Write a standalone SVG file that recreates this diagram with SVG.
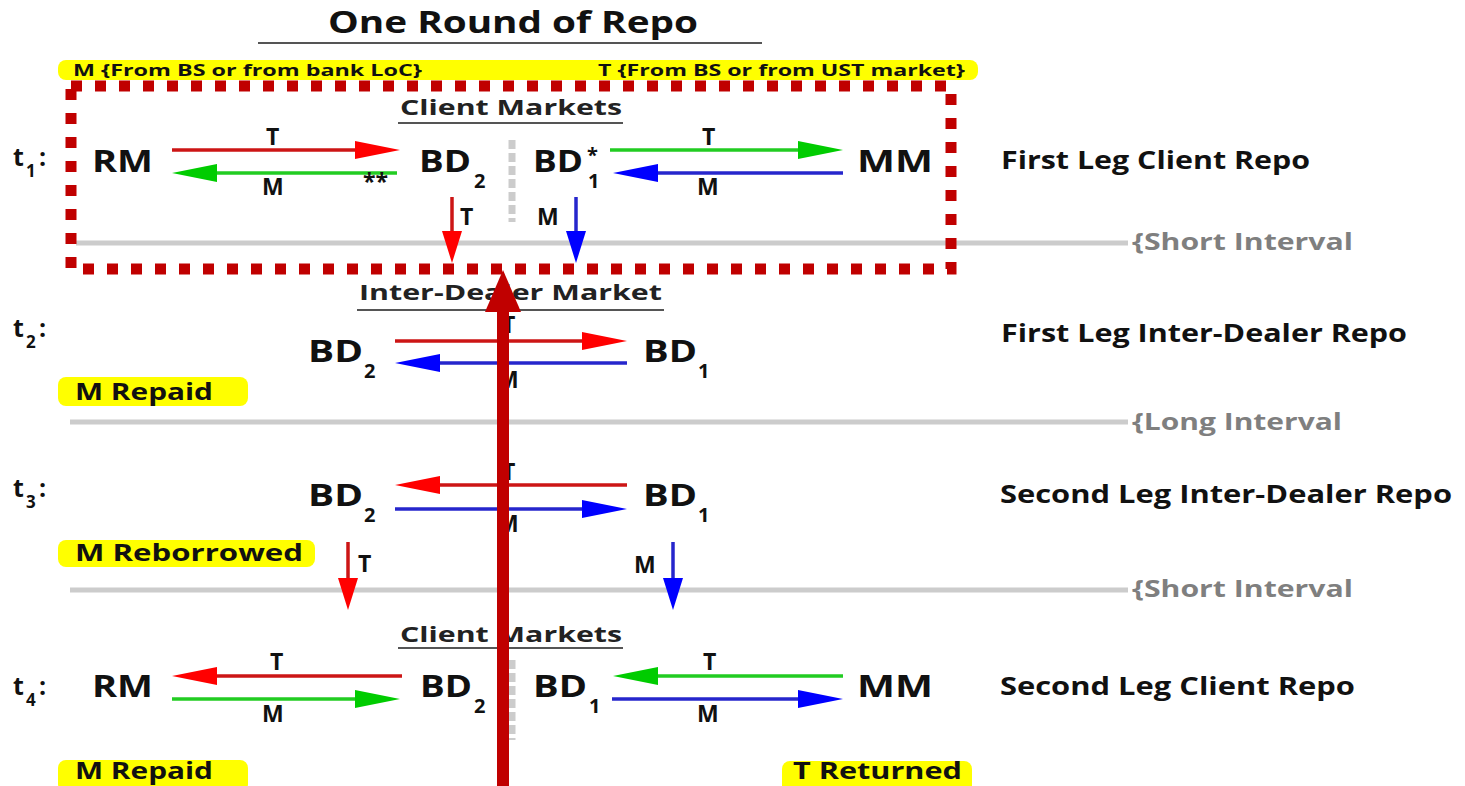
<svg xmlns="http://www.w3.org/2000/svg" width="1465" height="786" viewBox="0 0 1465 786">
  <style>
    text { font-family: "Open Sans", "Liberation Sans", sans-serif; font-weight: bold; fill: #111; }
    .title { font-size: 31px; }
    .hdr { font-size: 21px; fill: #222; }
    .node { font-size: 31px; }
    .sub { font-size: 20px; }
    .lbl { font-size: 23px; }
    .time { font-size: 25px; }
    .tsub { font-size: 17px; }
    .leg { font-size: 25px; }
    .intv { font-size: 23px; fill: #7f7f7f; }
    .note { font-size: 16px; }
    .tag { font-size: 23px; }
    .hl { fill: #ffff00; }
    .ul { stroke: #555; stroke-width: 2; }
    .grid { stroke: #cccccc; stroke-width: 5; fill: none; }
    .sep { stroke: #cccccc; stroke-width: 7; stroke-dasharray: 9 4; fill: none; }
    .r { stroke: #cc1515; stroke-width: 3.5; fill: none; }
    .g { stroke: #22cc22; stroke-width: 3.5; fill: none; }
    .b { stroke: #2626cc; stroke-width: 3.5; fill: none; }
    .rh { marker-end: url(#hr); }
    .gh { marker-end: url(#hg); }
    .bh { marker-end: url(#hb); }
    .rd { marker-end: url(#dr); }
    .bd { marker-end: url(#db); }
  </style>
  <defs>
    <marker id="hr" markerUnits="userSpaceOnUse" viewBox="0 0 45 18" markerWidth="45" markerHeight="18" refX="0" refY="9" orient="auto">
      <path d="M0,0 L45,9 L0,18 Z" fill="#ff0000"/>
    </marker>
    <marker id="hg" markerUnits="userSpaceOnUse" viewBox="0 0 45 18" markerWidth="45" markerHeight="18" refX="0" refY="9" orient="auto">
      <path d="M0,0 L45,9 L0,18 Z" fill="#00cc00"/>
    </marker>
    <marker id="hb" markerUnits="userSpaceOnUse" viewBox="0 0 45 18" markerWidth="45" markerHeight="18" refX="0" refY="9" orient="auto">
      <path d="M0,0 L45,9 L0,18 Z" fill="#0000ff"/>
    </marker>
    <marker id="dr" markerUnits="userSpaceOnUse" viewBox="0 0 32 20" markerWidth="32" markerHeight="20" refX="0" refY="10" orient="auto">
      <path d="M0,0 L32,10 L0,20 Z" fill="#ff0000"/>
    </marker>
    <marker id="db" markerUnits="userSpaceOnUse" viewBox="0 0 32 20" markerWidth="32" markerHeight="20" refX="0" refY="10" orient="auto">
      <path d="M0,0 L32,10 L0,20 Z" fill="#0000ff"/>
    </marker>
  </defs>

  <rect width="1465" height="786" fill="#ffffff"/>

  <!-- title -->
  <g id="title">
    <text class="title" x="328" y="33" textLength="370" lengthAdjust="spacingAndGlyphs">One Round of Repo</text>
    <line class="ul" x1="258" y1="43" x2="762" y2="43"/>
  </g>

  <!-- funding sources bar -->
  <g id="sources">
    <rect class="hl" x="58" y="60" width="920" height="20" rx="8"/>
    <text class="note" x="73" y="76" textLength="349" lengthAdjust="spacingAndGlyphs">M {From BS or from bank LoC}</text>
    <text class="note" x="598" y="76" textLength="367" lengthAdjust="spacingAndGlyphs">T {From BS or from UST market}</text>
  </g>

  <!-- time axis: interval rules -->
  <g id="intervals">
    <line class="grid" x1="76" y1="243" x2="1128" y2="243"/>
    <text class="intv" x="1132" y="250" textLength="221" lengthAdjust="spacingAndGlyphs">{Short Interval</text>
    <line class="grid" x1="70" y1="422" x2="1128" y2="422"/>
    <text class="intv" x="1132" y="430" textLength="210" lengthAdjust="spacingAndGlyphs">{Long Interval</text>
    <line class="grid" x1="70" y1="590" x2="1128" y2="590"/>
    <text class="intv" x="1132" y="597" textLength="221" lengthAdjust="spacingAndGlyphs">{Short Interval</text>
  </g>

  <!-- market separators -->
  <g id="separators">
    <line class="sep" x1="512" y1="140" x2="512" y2="222"/>
    <line class="sep" x1="512" y1="660" x2="512" y2="740"/>
  </g>

  <!-- section headers -->
  <g id="hdr-client-1">
    <text class="hdr" x="400" y="115" textLength="222" lengthAdjust="spacingAndGlyphs">Client Markets</text>
    <line class="ul" x1="398" y1="123" x2="623" y2="123"/>
  </g>
  <g id="hdr-interdealer">
    <text class="hdr" x="359" y="300" textLength="303" lengthAdjust="spacingAndGlyphs">Inter-Dealer Market</text>
    <line class="ul" x1="357" y1="310" x2="664" y2="310"/>
  </g>
  <g id="hdr-client-2">
    <text class="hdr" x="400" y="642" textLength="222" lengthAdjust="spacingAndGlyphs">Client Markets</text>
    <line class="ul" x1="398" y1="648" x2="623" y2="648"/>
  </g>

  <!-- time stamps -->
  <g id="t1"><text class="time" x="13" y="166">t</text><text class="tsub" x="26" y="177">1</text><text class="time" x="39" y="166">:</text></g>
  <g id="t2"><text class="time" x="13" y="337">t</text><text class="tsub" x="26" y="348">2</text><text class="time" x="39" y="337">:</text></g>
  <g id="t3"><text class="time" x="13" y="497">t</text><text class="tsub" x="26" y="508">3</text><text class="time" x="39" y="497">:</text></g>
  <g id="t4"><text class="time" x="13" y="695">t</text><text class="tsub" x="26" y="706">4</text><text class="time" x="39" y="695">:</text></g>

  <!-- step descriptions -->
  <g id="steps">
    <text class="leg" x="1001" y="169" textLength="309" lengthAdjust="spacingAndGlyphs">First Leg Client Repo</text>
    <text class="leg" x="1001" y="342" textLength="406" lengthAdjust="spacingAndGlyphs">First Leg Inter-Dealer Repo</text>
    <text class="leg" x="1000" y="503" textLength="452" lengthAdjust="spacingAndGlyphs">Second Leg Inter-Dealer Repo</text>
    <text class="leg" x="1000" y="695" textLength="355" lengthAdjust="spacingAndGlyphs">Second Leg Client Repo</text>
  </g>

  <!-- highlighted notes -->
  <g id="note-repaid-1">
    <rect class="hl" x="58" y="377" width="190" height="29" rx="8"/>
    <text class="tag" x="75" y="400" textLength="138" lengthAdjust="spacingAndGlyphs">M Repaid</text>
  </g>
  <g id="note-reborrowed">
    <rect class="hl" x="58" y="540" width="257" height="27" rx="8"/>
    <text class="tag" x="75" y="561" textLength="228" lengthAdjust="spacingAndGlyphs">M Reborrowed</text>
  </g>
  <g id="note-repaid-2">
    <rect class="hl" x="58" y="760" width="190" height="32" rx="8"/>
    <text class="tag" x="75" y="779" textLength="138" lengthAdjust="spacingAndGlyphs">M Repaid</text>
  </g>
  <g id="note-returned">
    <rect class="hl" x="782" y="761" width="190" height="32" rx="8"/>
    <text class="tag" x="793" y="779" textLength="169" lengthAdjust="spacingAndGlyphs">T Returned</text>
  </g>

  <!-- t1 nodes -->
  <g id="rm-1"><text class="node" x="92" y="172" textLength="61" lengthAdjust="spacingAndGlyphs">RM</text></g>
  <g id="bd2-1"><text class="node" x="419" y="172" textLength="52" lengthAdjust="spacingAndGlyphs">BD</text><text class="sub" x="474" y="188">2</text></g>
  <g id="bd1-1"><text class="node" x="533" y="172" textLength="50" lengthAdjust="spacingAndGlyphs">BD</text><text class="sub" x="587" y="162">*</text><text class="sub" x="588" y="188">1</text></g>
  <g id="mm-1"><text class="node" x="857" y="172" textLength="76" lengthAdjust="spacingAndGlyphs">MM</text></g>

  <!-- t2 nodes -->
  <g id="bd2-2"><text class="node" x="308" y="362" textLength="55" lengthAdjust="spacingAndGlyphs">BD</text><text class="sub" x="364" y="378">2</text></g>
  <g id="bd1-2"><text class="node" x="643" y="362" textLength="54" lengthAdjust="spacingAndGlyphs">BD</text><text class="sub" x="698" y="378">1</text></g>

  <!-- t3 nodes -->
  <g id="bd2-3"><text class="node" x="308" y="506" textLength="55" lengthAdjust="spacingAndGlyphs">BD</text><text class="sub" x="364" y="522">2</text></g>
  <g id="bd1-3"><text class="node" x="643" y="506" textLength="54" lengthAdjust="spacingAndGlyphs">BD</text><text class="sub" x="698" y="522">1</text></g>

  <!-- t4 nodes -->
  <g id="rm-4"><text class="node" x="92" y="697" textLength="61" lengthAdjust="spacingAndGlyphs">RM</text></g>
  <g id="bd2-4"><text class="node" x="420" y="697" textLength="52" lengthAdjust="spacingAndGlyphs">BD</text><text class="sub" x="474" y="713">2</text></g>
  <g id="bd1-4"><text class="node" x="533" y="697" textLength="54" lengthAdjust="spacingAndGlyphs">BD</text><text class="sub" x="589" y="713">1</text></g>
  <g id="mm-4"><text class="node" x="857" y="697" textLength="76" lengthAdjust="spacingAndGlyphs">MM</text></g>

  <!-- flows of securities (T) and money (M) -->
  <g id="connectors">
    <!-- t1 client legs -->
    <line class="r rh" x1="172" y1="150" x2="355" y2="150"/>
    <line class="g gh" x1="397" y1="173" x2="217" y2="173"/>
    <line class="g gh" x1="610" y1="150" x2="798" y2="150"/>
    <line class="b bh" x1="843" y1="173" x2="658" y2="173"/>
    <line class="r rd" x1="452" y1="197" x2="452" y2="231"/>
    <line class="b bd" x1="576" y1="197" x2="576" y2="231"/>
    <!-- t2 inter-dealer first leg -->
    <line class="r rh" x1="395" y1="341" x2="582" y2="341"/>
    <line class="b bh" x1="627" y1="363" x2="440" y2="363"/>
    <!-- t3 inter-dealer second leg -->
    <line class="r rh" x1="627" y1="485" x2="440" y2="485"/>
    <line class="b bh" x1="395" y1="509" x2="582" y2="509"/>
    <line class="r rd" x1="348" y1="542" x2="348" y2="578"/>
    <line class="b bd" x1="673" y1="542" x2="673" y2="578"/>
    <!-- t4 client legs -->
    <line class="r rh" x1="402" y1="676" x2="217" y2="676"/>
    <line class="g gh" x1="172" y1="699" x2="355" y2="699"/>
    <line class="g gh" x1="843" y1="676" x2="658" y2="676"/>
    <line class="b bh" x1="612" y1="699" x2="798" y2="699"/>
  </g>

  <!-- flow labels -->
  <g id="flow-labels">
    <text class="lbl" x="266" y="145">T</text>
    <text class="lbl" x="262" y="195">M</text>
    <text class="lbl" x="363" y="190" font-size="22">**</text>
    <text class="lbl" x="702" y="145">T</text>
    <text class="lbl" x="697" y="195">M</text>
    <text class="lbl" x="460" y="225">T</text>
    <text class="lbl" x="537" y="225">M</text>
    <text class="lbl" x="502" y="333">T</text>
    <text class="lbl" x="497" y="388">M</text>
    <text class="lbl" x="502" y="480">T</text>
    <text class="lbl" x="497" y="532">M</text>
    <text class="lbl" x="358" y="572">T</text>
    <text class="lbl" x="634" y="573">M</text>
    <text class="lbl" x="270" y="670">T</text>
    <text class="lbl" x="262" y="722">M</text>
    <text class="lbl" x="703" y="670">T</text>
    <text class="lbl" x="697" y="722">M</text>
  </g>

  <!-- focus frame around the first client leg -->
  <rect id="focus" x="71" y="86" width="880" height="183" fill="none" stroke="#c00000" stroke-width="11" stroke-dasharray="11 13"/>

  <!-- pointer up to the focus frame -->
  <g id="pointer">
    <line x1="503" y1="786" x2="503" y2="305" stroke="#c00000" stroke-width="12"/>
    <polygon points="503,270 485,312 521,312" fill="#c00000"/>
  </g>
</svg>
